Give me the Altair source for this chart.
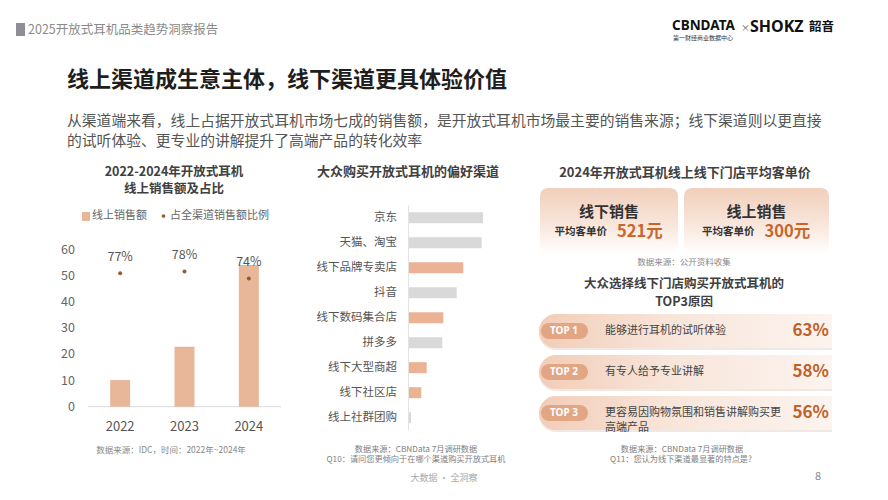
import altair as alt
import pandas as pd

FONT = "Noto Sans CJK SC"
OX, OY = 8, 8

# ---------------- data ----------------
years = ["2022", "2023", "2024"]
online_sales = [10.2, 23.0, 54.3]
online_share = [0.77, 0.78, 0.74]
y_ticks = [0, 10, 20, 30, 40, 50, 60]

channels = ["京东", "天猫、淘宝", "线下品牌专卖店", "抖音", "线下数码集合店",
            "拼多多", "线下大型商超", "线下社区店", "线上社群团购"]
channel_values = [56, 55, 41.1, 36.1, 26, 25.2, 13.4, 9.3, 1.5]
channel_kind = ["线上", "线上", "线下", "线上", "线下", "线上", "线下", "线下", "线上"]

card_labels = ["线下销售", "线上销售"]
card_prices = [521, 300]

ranks = ["TOP 1", "TOP 2", "TOP 3"]
reasons = ["能够进行耳机的试听体验", "有专人给予专业讲解", "更容易因购物氛围和销售讲解购买更\n高端产品"]
reason_share = [0.63, 0.58, 0.56]

left_df = pd.DataFrame({"year": years, "sales": online_sales, "share": online_share})
tick_df = pd.DataFrame({"v": y_ticks})
ch_df = pd.DataFrame({"channel": channels, "value": channel_values, "kind": channel_kind})
top_df = pd.DataFrame({"rank": ranks, "reason": reasons, "share": reason_share})

ONE = alt.Data(values=[{"a": 1}])


def txt(s, x, y, size=12, color="#555555", weight="normal", align="left", baseline="middle", font=FONT):
    return alt.Chart(ONE).mark_text(text=s, fontSize=size, color=color, fontWeight=weight,
                                    align=align, baseline=baseline, font=font).encode(
        x=alt.value(x - OX), y=alt.value(y - OY))


def box(x1, y1, x2, y2, **kw):
    return alt.Chart(ONE).mark_rect(**kw).encode(
        x=alt.value(x1 - OX), x2=alt.value(x2 - OX), y=alt.value(y1 - OY), y2=alt.value(y2 - OY))


def rule(x1, y1, x2, y2, **kw):
    return alt.Chart(ONE).mark_rule(**kw).encode(
        x=alt.value(x1 - OX), x2=alt.value(x2 - OX), y=alt.value(y1 - OY), y2=alt.value(y2 - OY))


layers = []

# ---------------- header ----------------
layers.append(box(16, 23, 25, 36, color="#8E8E96"))
layers.append(txt("2025开放式耳机品类趋势洞察报告", 28, 30, size=12.5, color="#8A8A8A"))
layers.append(txt("CBNDATA", 672, 26, size=13.5, color="#111111", weight="bold", font="Noto Sans"))
layers.append(txt("第一财经商业数据中心", 673, 38, size=6, color="#333333"))
layers.append(txt("×", 741, 28, size=9, color="#555555"))
layers.append(txt("SHOKZ", 750, 27, size=16, color="#111111", weight="bold", font="Noto Sans"))
layers.append(txt("韶音", 809, 27, size=12.5, color="#111111", weight="bold"))

layers.append(txt("线上渠道成生意主体，线下渠道更具体验价值", 67, 80, size=22, color="#1E1E1E", weight="bold"))
layers.append(txt("从渠道端来看，线上占据开放式耳机市场七成的销售额，是开放式耳机市场最主要的销售来源；线下渠道则以更直接",
                  67, 122, size=14.8, color="#555555"))
layers.append(txt("的试听体验、更专业的讲解提升了高端产品的转化效率", 67, 142, size=14.8, color="#555555"))

# ---------------- left chart ----------------
BAR = "#E8B699"
DOT = "#9A5A2A"
layers.append(txt("2022-2024年开放式耳机", 174, 171.5, size=12.5, color="#404040", weight="bold", align="center"))
layers.append(txt("线上销售额及占比", 174, 189, size=12.5, color="#404040", weight="bold", align="center"))
layers.append(box(82, 212, 90, 221, color=BAR))
layers.append(txt("线上销售额", 92, 216, size=11, color="#666666"))
layers.append(alt.Chart(ONE).mark_circle(size=14, color=DOT, opacity=1).encode(
    x=alt.value(163.5 - OX), y=alt.value(216 - OY)))
layers.append(txt("占全渠道销售额比例", 170, 216, size=11, color="#666666"))

xband = alt.Scale(domain=years, range=[88 - OX, 281 - OX], paddingInner=0, paddingOuter=0)
ysales = alt.Scale(domain=[0, 60], range=[406.7 - OY, 250 - OY])
yshare = alt.Scale(domain=[0, 1], range=[406.7 - OY, 233.4 - OY])

layers.append(rule(88, 406.7, 281, 406.7, color="#D9D9D9", strokeWidth=1))
layers.append(alt.Chart(left_df).mark_bar(size=20, color=BAR).encode(
    x=alt.X("year:N", scale=xband, axis=None),
    y=alt.Y("sales:Q", scale=ysales, axis=None)))
layers.append(alt.Chart(tick_df).mark_text(align="right", baseline="middle", fontSize=12.5,
                                           color="#666666", font=FONT).encode(
    x=alt.value(75 - OX),
    y=alt.Y("v:Q", scale=ysales, axis=None),
    text="v:Q"))
layers.append(alt.Chart(left_df).mark_circle(size=16, color=DOT, opacity=1).encode(
    x=alt.X("year:N", scale=xband, axis=None),
    y=alt.Y("share:Q", scale=yshare, axis=None)))
layers.append(alt.Chart(left_df).mark_text(dy=-16.5, fontSize=12.5, color="#555555", font=FONT).encode(
    x=alt.X("year:N", scale=xband, axis=None),
    y=alt.Y("share:Q", scale=yshare, axis=None),
    text=alt.Text("share:Q", format=".0%")))
layers.append(alt.Chart(left_df).mark_text(fontSize=13, color="#555555", font=FONT).encode(
    x=alt.X("year:N", scale=xband, axis=None),
    y=alt.value(426.5 - OY),
    text="year:N"))
layers.append(txt("数据来源：IDC，时间：2022年~2024年", 171, 450, size=8.5, color="#888888", align="center"))

# ---------------- middle chart ----------------
layers.append(txt("大众购买开放式耳机的偏好渠道", 408, 172, size=13, color="#404040", weight="bold", align="center"))
yband = alt.Scale(domain=channels, range=[205.2 - OY, 430.2 - OY], paddingInner=0.56, paddingOuter=0.28)
xval = alt.Scale(domain=[0, 56], range=[409 - OX, 483 - OX])
layers.append(rule(408.5, 205, 408.5, 430, color="#E3E3E3", strokeWidth=1))
layers.append(alt.Chart(ch_df).mark_bar().encode(
    y=alt.Y("channel:N", scale=yband, sort=channels, axis=None),
    x=alt.X("value:Q", scale=xval, axis=None),
    color=alt.Color("kind:N", scale=alt.Scale(domain=["线上", "线下"], range=["#D9D9D9", "#EBB296"]),
                    legend=None)))
layers.append(alt.Chart(ch_df).mark_text(align="right", baseline="middle", fontSize=11.5,
                                         color="#555555", font=FONT).encode(
    y=alt.Y("channel:N", scale=yband, sort=channels, axis=None),
    x=alt.value(397 - OX),
    text="channel:N"))
layers.append(txt("数据来源：CBNData 7月调研数据", 416, 449.5, size=8.2, color="#808080", align="center"))
layers.append(txt("Q10：请问您更倾向于在哪个渠道购买开放式耳机", 416, 460, size=8.2, color="#808080", align="center"))
layers.append(txt("大数据 · 全洞察", 444, 478, size=9, color="#A8A8A8", align="center"))

# ---------------- right top: cards ----------------
layers.append(txt("2024年开放式耳机线上线下门店平均客单价", 685, 173, size=13, color="#404040", weight="bold", align="center"))
card_grad = alt.LinearGradient(gradient="linear", x1=0, y1=0, x2=0, y2=1,
                               stops=[alt.GradientStop(color="#F1CFBB", offset=0),
                                      alt.GradientStop(color="#F8E6DB", offset=0.55),
                                      alt.GradientStop(color="#FFFFFF", offset=1)])
PRICE = "#C8652B"
for (x1, x2), lab, price in zip([(540, 678), (684, 829)], card_labels, card_prices):
    cx = (x1 + x2) / 2
    layers.append(box(x1, 188, x2, 254, color=card_grad, cornerRadius=8))
    layers.append(txt(lab, cx, 212, size=15, color="#333333", weight="bold", align="center"))
    layers.append(txt("平均客单价", cx - 2, 232, size=10.5, color="#333333", weight="bold", align="right"))
    layers.append(txt(f"{price}元", cx + 8, 232, size=16.5, color=PRICE, weight="bold", align="left"))
layers.append(txt("数据来源：公开资料收集", 684, 262, size=8.5, color="#888888", align="center"))

# ---------------- right bottom: top3 ----------------
layers.append(txt("大众选择线下门店购买开放式耳机的", 684, 284, size=12.5, color="#404040", weight="bold", align="center"))
layers.append(txt("TOP3原因", 684, 302, size=12.5, color="#404040", weight="bold", align="center"))

strip_band = alt.Scale(domain=ranks, range=[314 - OY, 430 - OY], paddingInner=0.1707, paddingOuter=0)
row_pt = alt.Scale(type="point", domain=ranks, range=[331 - OY, 413 - OY], padding=0)
strip_grad = alt.LinearGradient(gradient="linear", x1=0, y1=0, x2=1, y2=0,
                                stops=[alt.GradientStop(color="#F2CDB7", offset=0),
                                       alt.GradientStop(color="#F8E5DA", offset=0.45),
                                       alt.GradientStop(color="#FCF4EF", offset=1)])
layers.append(alt.Chart(top_df).mark_rect(color="#E6D8CF", opacity=0.6, yOffset=2,
                                          cornerRadiusTopLeft=17, cornerRadiusBottomLeft=17).encode(
    y=alt.Y("rank:N", scale=strip_band, axis=None),
    x=alt.value(539 - OX), x2=alt.value(832 - OX)))
layers.append(alt.Chart(top_df).mark_rect(color=strip_grad,
                                          cornerRadiusTopLeft=17, cornerRadiusBottomLeft=17).encode(
    y=alt.Y("rank:N", scale=strip_band, axis=None),
    x=alt.value(539 - OX), x2=alt.value(832 - OX)))
layers.append(alt.Chart(top_df).mark_rule(strokeWidth=16, strokeCap="round", color="#E3A684").encode(
    y=alt.Y("rank:N", scale=row_pt, axis=None),
    x=alt.value(549 - OX), x2=alt.value(580 - OX)))
layers.append(alt.Chart(top_df).mark_text(fontSize=10, fontWeight="bold", color="#FFFFFF",
                                          font="Noto Sans").encode(
    y=alt.Y("rank:N", scale=row_pt, axis=None),
    x=alt.value(564 - OX), text="rank:N"))
layers.append(alt.Chart(top_df).mark_text(align="left", baseline="middle", fontSize=11, color="#444444",
                                          font=FONT, lineBreak="\n", lineHeight=15).encode(
    y=alt.Y("rank:N", scale=row_pt, axis=None),
    x=alt.value(605 - OX), text="reason:N"))
layers.append(alt.Chart(top_df).mark_text(align="right", baseline="middle", fontSize=17, fontWeight="bold",
                                          color="#C0602A", font=FONT).encode(
    y=alt.Y("rank:N", scale=row_pt, axis=None),
    x=alt.value(829 - OX), text=alt.Text("share:Q", format=".0%")))
layers.append(txt("数据来源：CBNData 7月调研数据", 682, 449.5, size=8.2, color="#808080", align="center"))
layers.append(txt("Q11：您认为线下渠道最显著的特点是?", 681, 460, size=8.2, color="#808080", align="center"))
layers.append(txt("8", 818, 477, size=11, color="#888888", align="center"))

chart = alt.layer(*layers).resolve_scale(
    x="independent", y="independent", color="independent"
).properties(
    width=872, height=484, padding=0, background="white",
    autosize=alt.AutoSizeParams(type="none")
).configure_view(stroke=None)

chart.save("out.html", embed_options={"renderer": "svg", "actions": False})
